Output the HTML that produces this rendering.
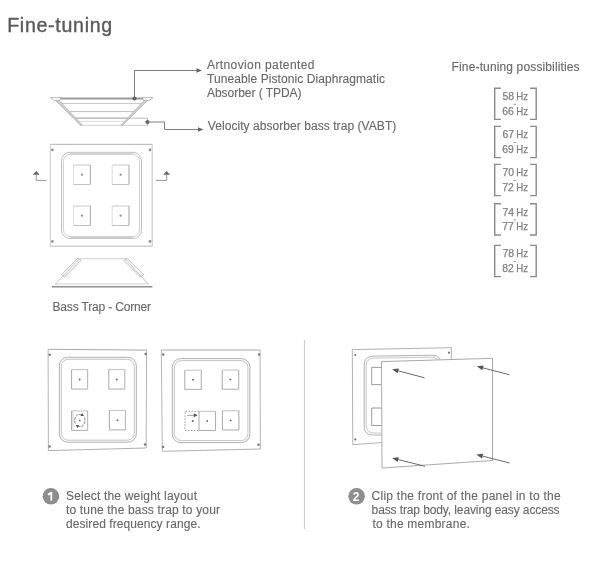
<!DOCTYPE html>
<html><head><meta charset="utf-8"><style>
html,body{margin:0;padding:0;background:#fff;width:600px;height:562px;overflow:hidden}
svg{display:block;will-change:transform}
text{font-family:"Liberation Sans",sans-serif}
</style></head><body>
<svg width="600" height="562" viewBox="0 0 600 562">
<rect width="600" height="562" fill="#fff"/>
<text x="7.2" y="31.6" font-size="19.6" fill="#5a5a5a" stroke="#5a5a5a" stroke-width="0.4" textLength="105" lengthAdjust="spacing" >Fine-tuning</text>
<g fill="none" stroke-linecap="butt">
<path d="M50.5 97.6 H61 L59.5 100.6 H54 Z" stroke="#a8a8a8" stroke-width="0.8"/>
<path d="M142.5 97.6 H153 L149 100.6 H143.5 Z" stroke="#a8a8a8" stroke-width="0.8"/>
<line x1="60.5" y1="98.6" x2="143" y2="98.6" stroke="#9a9a9a" stroke-width="2"/>
<line x1="60" y1="103.5" x2="142" y2="103.5" stroke="#cacaca" stroke-width="1"/>
<line x1="67" y1="111.6" x2="134" y2="111.6" stroke="#c0c0c0" stroke-width="1"/>
<line x1="75" y1="118.2" x2="128" y2="118.2" stroke="#adadad" stroke-width="1.3"/>
<line x1="78" y1="121.4" x2="124" y2="121.4" stroke="#d0d0d0" stroke-width="0.8"/>
<line x1="80" y1="125.3" x2="147.5" y2="125.3" stroke="#cfcfcf" stroke-width="1"/>
<line x1="147.5" y1="118.2" x2="147.5" y2="125.3" stroke="#9a9a9a" stroke-width="0.8"/>
<line x1="128" y1="118.2" x2="147.5" y2="118.2" stroke="#cccccc" stroke-width="1.3"/>
<path d="M55.3 100.2 H58.9 L82.4 125.2 H80.4 Z" fill="#cdcdcd" stroke="#b0b0b0" stroke-width="0.7"/>
<path d="M147.7 100.2 H144.3 L120.8 125.2 H122.8 Z" fill="#cdcdcd" stroke="#b0b0b0" stroke-width="0.7"/>
<path d="M134.5 98.5 V70.5 H197" stroke="#727272" stroke-width="0.9"/>
<path d="M147.5 122 H164.5 V129.5 H198.5" stroke="#727272" stroke-width="0.9"/>
</g>
<circle cx="134.5" cy="98.5" r="2.1" fill="#666"/>
<circle cx="147.5" cy="122" r="2.1" fill="#666"/>
<path d="M202 70.5 L196.5 68.2 V72.8 Z" fill="#666"/>
<path d="M203.5 129.5 L198 127.2 V131.8 Z" fill="#666"/>
<text x="207" y="69" font-size="12" fill="#686868" stroke="#686868" stroke-width="0.12" textLength="107.5" lengthAdjust="spacing" >Artnovion patented</text>
<text x="207" y="83" font-size="12" fill="#686868" stroke="#686868" stroke-width="0.12" textLength="178" lengthAdjust="spacing" >Tuneable Pistonic Diaphragmatic</text>
<text x="207" y="97.3" font-size="12" fill="#686868" stroke="#686868" stroke-width="0.12" textLength="94.5" lengthAdjust="spacing" >Absorber ( TPDA)</text>
<text x="207.8" y="129.7" font-size="12" fill="#686868" stroke="#686868" stroke-width="0.12" textLength="188.5" lengthAdjust="spacing" >Velocity absorber bass trap (VABT)</text>
<line x1="50.3" y1="144.3" x2="152.2" y2="144.3" stroke="#b0b0b0" stroke-width="1"/>
<line x1="50.3" y1="246.2" x2="152.2" y2="246.2" stroke="#bcbcbc" stroke-width="1"/>
<line x1="50.3" y1="144.3" x2="50.3" y2="246.2" stroke="#cccccc" stroke-width="1"/>
<line x1="152.2" y1="144.3" x2="152.2" y2="246.2" stroke="#c2c2c2" stroke-width="1"/>
<rect x="61.5" y="152.3" width="80.0" height="86.19999999999999" rx="8.5" fill="none" stroke="#c0c0c0" stroke-width="1"/>
<rect x="63.4" y="154.4" width="76.19999999999999" height="82.1" rx="7" fill="none" stroke="#cdcdcd" stroke-width="1"/>
<line x1="70" y1="153.3" x2="133" y2="153.3" stroke="#d2d2d2" stroke-width="1.5"/>
<line x1="70" y1="237.5" x2="133" y2="237.5" stroke="#d2d2d2" stroke-width="1.5"/>
<line x1="73.6" y1="165" x2="73.6" y2="184.5" stroke="#dcdcdc" stroke-width="1"/>
<line x1="73.6" y1="165" x2="90.39999999999999" y2="165" stroke="#c8c8c8" stroke-width="1"/>
<line x1="90.39999999999999" y1="165" x2="90.39999999999999" y2="184.5" stroke="#b8b8b8" stroke-width="1.3"/>
<line x1="73.6" y1="184.5" x2="90.39999999999999" y2="184.5" stroke="#c2c2c2" stroke-width="1"/>
<circle cx="82.0" cy="174.7" r="1.1" fill="#909090"/>
<line x1="112.2" y1="165" x2="112.2" y2="184.5" stroke="#dcdcdc" stroke-width="1"/>
<line x1="112.2" y1="165" x2="129.0" y2="165" stroke="#c8c8c8" stroke-width="1"/>
<line x1="129.0" y1="165" x2="129.0" y2="184.5" stroke="#b8b8b8" stroke-width="1.3"/>
<line x1="112.2" y1="184.5" x2="129.0" y2="184.5" stroke="#c2c2c2" stroke-width="1"/>
<circle cx="120.60000000000001" cy="174.7" r="1.1" fill="#909090"/>
<line x1="73.6" y1="206" x2="73.6" y2="225.5" stroke="#dcdcdc" stroke-width="1"/>
<line x1="73.6" y1="206" x2="90.39999999999999" y2="206" stroke="#c8c8c8" stroke-width="1"/>
<line x1="90.39999999999999" y1="206" x2="90.39999999999999" y2="225.5" stroke="#b8b8b8" stroke-width="1.3"/>
<line x1="73.6" y1="225.5" x2="90.39999999999999" y2="225.5" stroke="#c2c2c2" stroke-width="1"/>
<circle cx="82.0" cy="215.7" r="1.1" fill="#909090"/>
<line x1="112.2" y1="206" x2="112.2" y2="225.5" stroke="#dcdcdc" stroke-width="1"/>
<line x1="112.2" y1="206" x2="129.0" y2="206" stroke="#c8c8c8" stroke-width="1"/>
<line x1="129.0" y1="206" x2="129.0" y2="225.5" stroke="#b8b8b8" stroke-width="1.3"/>
<line x1="112.2" y1="225.5" x2="129.0" y2="225.5" stroke="#c2c2c2" stroke-width="1"/>
<circle cx="120.60000000000001" cy="215.7" r="1.1" fill="#909090"/>
<circle cx="52.4" cy="149.9" r="1.3" fill="#8a8a8a"/>
<circle cx="150" cy="149.9" r="1.3" fill="#8a8a8a"/>
<circle cx="52.4" cy="241.4" r="1.3" fill="#8a8a8a"/>
<circle cx="150" cy="241.4" r="1.3" fill="#8a8a8a"/>
<path d="M36.2 174.5 V180.4 H46.4" fill="none" stroke="#8a8a8a" stroke-width="0.9"/>
<path d="M36.2 171 L32.7 174.8 H39.7 Z" fill="#666"/>
<path d="M156 180.4 H166.7 V174.5" fill="none" stroke="#8a8a8a" stroke-width="0.9"/>
<path d="M166.6 171 L163.1 174.8 H170.1 Z" fill="#666"/>
<g fill="none">
<line x1="79.5" y1="258.8" x2="125.5" y2="258.8" stroke="#cfcfcf" stroke-width="1"/>
<line x1="79.5" y1="258.8" x2="55.5" y2="284" stroke="#b4b4b4" stroke-width="0.8"/>
<line x1="125.5" y1="258.8" x2="148" y2="284" stroke="#b4b4b4" stroke-width="0.8"/>
<path d="M78 258.2 L81 260.5 L64.5 277 L61.5 274.7 Z" stroke="#a8a8a8" stroke-width="0.8"/>
<path d="M127 258.2 L124 260.5 L140.5 277 L143.5 274.7 Z" stroke="#a8a8a8" stroke-width="0.8"/>
<line x1="55" y1="284" x2="149" y2="284" stroke="#d0d0d0" stroke-width="1"/>
<line x1="52" y1="286.8" x2="152.5" y2="286.8" stroke="#8f8f8f" stroke-width="1.6"/>
</g>
<text x="52.5" y="310.6" font-size="12" fill="#686868" stroke="#686868" stroke-width="0.12" textLength="98.5" lengthAdjust="spacing" >Bass Trap - Corner</text>
<text x="451.6" y="70.5" font-size="12" fill="#686868" stroke="#686868" stroke-width="0.12" textLength="128" lengthAdjust="spacing" >Fine-tuning possibilities</text>
<path d="M500.9 88.2 H494.7 V119.4 H500.9" fill="none" stroke="#8a8a8a" stroke-width="1.4"/>
<path d="M530 88.2 H536.2 V119.4 H530" fill="none" stroke="#8a8a8a" stroke-width="1.4"/>
<text x="502.4" y="100.10000000000001" font-size="10.7" fill="#808080" stroke="#808080" stroke-width="0.25" textLength="11.6" lengthAdjust="spacingAndGlyphs" >58</text>
<text x="502.2" y="114.80000000000001" font-size="10.7" fill="#808080" stroke="#808080" stroke-width="0.25" textLength="11.6" lengthAdjust="spacingAndGlyphs" >66</text>
<text x="516.2" y="100.10000000000001" font-size="10.7" fill="#808080" stroke="#808080" stroke-width="0.25" textLength="11.8" lengthAdjust="spacingAndGlyphs" >Hz</text>
<text x="516.2" y="114.80000000000001" font-size="10.7" fill="#808080" stroke="#808080" stroke-width="0.25" textLength="11.8" lengthAdjust="spacingAndGlyphs" >Hz</text>
<line x1="513.6" y1="104.30000000000001" x2="515.8" y2="104.30000000000001" stroke="#8c8c8c" stroke-width="1"/>
<path d="M500.9 126.4 H494.7 V157.6 H500.9" fill="none" stroke="#8a8a8a" stroke-width="1.4"/>
<path d="M530 126.4 H536.2 V157.6 H530" fill="none" stroke="#8a8a8a" stroke-width="1.4"/>
<text x="502.4" y="138.3" font-size="10.7" fill="#808080" stroke="#808080" stroke-width="0.25" textLength="11.6" lengthAdjust="spacingAndGlyphs" >67</text>
<text x="502.2" y="153.0" font-size="10.7" fill="#808080" stroke="#808080" stroke-width="0.25" textLength="11.6" lengthAdjust="spacingAndGlyphs" >69</text>
<text x="516.2" y="138.3" font-size="10.7" fill="#808080" stroke="#808080" stroke-width="0.25" textLength="11.8" lengthAdjust="spacingAndGlyphs" >Hz</text>
<text x="516.2" y="153.0" font-size="10.7" fill="#808080" stroke="#808080" stroke-width="0.25" textLength="11.8" lengthAdjust="spacingAndGlyphs" >Hz</text>
<line x1="513.6" y1="142.5" x2="515.8" y2="142.5" stroke="#8c8c8c" stroke-width="1"/>
<path d="M500.9 164.4 H494.7 V195.6 H500.9" fill="none" stroke="#8a8a8a" stroke-width="1.4"/>
<path d="M530 164.4 H536.2 V195.6 H530" fill="none" stroke="#8a8a8a" stroke-width="1.4"/>
<text x="502.4" y="176.3" font-size="10.7" fill="#808080" stroke="#808080" stroke-width="0.25" textLength="11.6" lengthAdjust="spacingAndGlyphs" >70</text>
<text x="502.2" y="191.0" font-size="10.7" fill="#808080" stroke="#808080" stroke-width="0.25" textLength="11.6" lengthAdjust="spacingAndGlyphs" >72</text>
<text x="516.2" y="176.3" font-size="10.7" fill="#808080" stroke="#808080" stroke-width="0.25" textLength="11.8" lengthAdjust="spacingAndGlyphs" >Hz</text>
<text x="516.2" y="191.0" font-size="10.7" fill="#808080" stroke="#808080" stroke-width="0.25" textLength="11.8" lengthAdjust="spacingAndGlyphs" >Hz</text>
<line x1="513.6" y1="180.5" x2="515.8" y2="180.5" stroke="#8c8c8c" stroke-width="1"/>
<path d="M500.9 203.8 H494.7 V235.0 H500.9" fill="none" stroke="#8a8a8a" stroke-width="1.4"/>
<path d="M530 203.8 H536.2 V235.0 H530" fill="none" stroke="#8a8a8a" stroke-width="1.4"/>
<text x="502.4" y="215.70000000000002" font-size="10.7" fill="#808080" stroke="#808080" stroke-width="0.25" textLength="11.6" lengthAdjust="spacingAndGlyphs" >74</text>
<text x="502.2" y="230.4" font-size="10.7" fill="#808080" stroke="#808080" stroke-width="0.25" textLength="11.6" lengthAdjust="spacingAndGlyphs" >77</text>
<text x="516.2" y="215.70000000000002" font-size="10.7" fill="#808080" stroke="#808080" stroke-width="0.25" textLength="11.8" lengthAdjust="spacingAndGlyphs" >Hz</text>
<text x="516.2" y="230.4" font-size="10.7" fill="#808080" stroke="#808080" stroke-width="0.25" textLength="11.8" lengthAdjust="spacingAndGlyphs" >Hz</text>
<line x1="513.6" y1="219.9" x2="515.8" y2="219.9" stroke="#8c8c8c" stroke-width="1"/>
<path d="M500.9 245.4 H494.7 V276.6 H500.9" fill="none" stroke="#8a8a8a" stroke-width="1.4"/>
<path d="M530 245.4 H536.2 V276.6 H530" fill="none" stroke="#8a8a8a" stroke-width="1.4"/>
<text x="502.4" y="257.3" font-size="10.7" fill="#808080" stroke="#808080" stroke-width="0.25" textLength="11.6" lengthAdjust="spacingAndGlyphs" >78</text>
<text x="502.2" y="272.0" font-size="10.7" fill="#808080" stroke="#808080" stroke-width="0.25" textLength="11.6" lengthAdjust="spacingAndGlyphs" >82</text>
<text x="516.2" y="257.3" font-size="10.7" fill="#808080" stroke="#808080" stroke-width="0.25" textLength="11.8" lengthAdjust="spacingAndGlyphs" >Hz</text>
<text x="516.2" y="272.0" font-size="10.7" fill="#808080" stroke="#808080" stroke-width="0.25" textLength="11.8" lengthAdjust="spacingAndGlyphs" >Hz</text>
<line x1="513.6" y1="261.5" x2="515.8" y2="261.5" stroke="#8c8c8c" stroke-width="1"/>
<line x1="304.5" y1="340" x2="304.5" y2="529" stroke="#cfcfcf" stroke-width="1.2"/>
<line x1="48.1" y1="349.3" x2="146.6" y2="350.1" stroke="#a8a8a8" stroke-width="1"/>
<line x1="48.4" y1="450.6" x2="146.2" y2="448" stroke="#b0b0b0" stroke-width="1"/>
<line x1="48.1" y1="349.3" x2="48.4" y2="450.6" stroke="#b8b8b8" stroke-width="1"/>
<line x1="146.6" y1="350.1" x2="146.2" y2="448" stroke="#b4b4b4" stroke-width="1"/>
<rect x="59.3" y="357.3" width="77.00000000000001" height="84.89999999999998" rx="8.5" fill="none" stroke="#b0b0b0" stroke-width="1"/>
<rect x="61.3" y="359.3" width="73.00000000000001" height="80.89999999999998" rx="7" fill="none" stroke="#c4c4c4" stroke-width="1"/>
<circle cx="49.7" cy="354.7" r="1.25" fill="#7a7a7a"/>
<circle cx="145.6" cy="353.9" r="1.25" fill="#7a7a7a"/>
<circle cx="49.6" cy="446.6" r="1.25" fill="#7a7a7a"/>
<circle cx="145" cy="444.4" r="1.25" fill="#7a7a7a"/>
<line x1="71.6" y1="369.6" x2="71.6" y2="389.1" stroke="#a8a8a8" stroke-width="1"/>
<line x1="71.6" y1="369.6" x2="87.6" y2="369.6" stroke="#c0c0c0" stroke-width="1"/>
<line x1="87.6" y1="369.6" x2="87.6" y2="389.1" stroke="#b8b8b8" stroke-width="1.1"/>
<line x1="71.6" y1="389.1" x2="87.6" y2="389.1" stroke="#adadad" stroke-width="1"/>
<circle cx="79.6" cy="379.40000000000003" r="1" fill="#707070"/>
<line x1="108.8" y1="369.6" x2="108.8" y2="389.1" stroke="#a8a8a8" stroke-width="1"/>
<line x1="108.8" y1="369.6" x2="124.8" y2="369.6" stroke="#c0c0c0" stroke-width="1"/>
<line x1="124.8" y1="369.6" x2="124.8" y2="389.1" stroke="#b8b8b8" stroke-width="1.1"/>
<line x1="108.8" y1="389.1" x2="124.8" y2="389.1" stroke="#adadad" stroke-width="1"/>
<circle cx="116.8" cy="379.40000000000003" r="1" fill="#707070"/>
<line x1="71.6" y1="410.9" x2="71.6" y2="430.4" stroke="#a8a8a8" stroke-width="1"/>
<line x1="71.6" y1="410.9" x2="87.6" y2="410.9" stroke="#c0c0c0" stroke-width="1"/>
<line x1="87.6" y1="410.9" x2="87.6" y2="430.4" stroke="#b8b8b8" stroke-width="1.1"/>
<line x1="71.6" y1="430.4" x2="87.6" y2="430.4" stroke="#adadad" stroke-width="1"/>
<line x1="109.4" y1="410.4" x2="109.4" y2="429.9" stroke="#a8a8a8" stroke-width="1"/>
<line x1="109.4" y1="410.4" x2="125.4" y2="410.4" stroke="#c0c0c0" stroke-width="1"/>
<line x1="125.4" y1="410.4" x2="125.4" y2="429.9" stroke="#b8b8b8" stroke-width="1.1"/>
<line x1="109.4" y1="429.9" x2="125.4" y2="429.9" stroke="#adadad" stroke-width="1"/>
<circle cx="117.4" cy="420.2" r="1" fill="#707070"/>
<line x1="72.9" y1="412" x2="72.9" y2="429" stroke="#c8c8c8" stroke-width="0.8"/>
<path d="M75.30 423.60 A5.2 6.2 0 0 1 82.00 414.88" fill="none" stroke="#7a7a7a" stroke-width="0.9" stroke-dasharray="3 0.8"/>
<path d="M83.92 415.95 L80.42 416.07 L82.17 412.92 Z" fill="#555"/>
<path d="M84.30 417.40 A5.2 6.2 0 0 1 77.60 426.12" fill="none" stroke="#7a7a7a" stroke-width="0.9" stroke-dasharray="3 0.8"/>
<path d="M75.68 425.05 L79.18 424.93 L77.43 428.08 Z" fill="#555"/>
<circle cx="79.8" cy="420.5" r="0.9" fill="#777"/>
<line x1="161.3" y1="350" x2="260" y2="350" stroke="#a8a8a8" stroke-width="1"/>
<line x1="162.3" y1="451.3" x2="260.4" y2="449" stroke="#b0b0b0" stroke-width="1"/>
<line x1="161.3" y1="350" x2="162.3" y2="451.3" stroke="#b8b8b8" stroke-width="1"/>
<line x1="260" y1="350" x2="260.4" y2="449" stroke="#b4b4b4" stroke-width="1"/>
<rect x="172.3" y="358.6" width="77.6" height="84.0" rx="8.5" fill="none" stroke="#b0b0b0" stroke-width="1"/>
<rect x="174.3" y="360.6" width="73.6" height="80.0" rx="7" fill="none" stroke="#c4c4c4" stroke-width="1"/>
<circle cx="163.2" cy="354.4" r="1.25" fill="#7a7a7a"/>
<circle cx="259.1" cy="354.4" r="1.25" fill="#7a7a7a"/>
<circle cx="163" cy="447" r="1.25" fill="#7a7a7a"/>
<circle cx="258.5" cy="444.7" r="1.25" fill="#7a7a7a"/>
<line x1="184.8" y1="370.2" x2="184.8" y2="389.4" stroke="#a8a8a8" stroke-width="1"/>
<line x1="184.8" y1="370.2" x2="201.3" y2="370.2" stroke="#c0c0c0" stroke-width="1"/>
<line x1="201.3" y1="370.2" x2="201.3" y2="389.4" stroke="#b0b0b0" stroke-width="1.1"/>
<line x1="184.8" y1="389.4" x2="201.3" y2="389.4" stroke="#adadad" stroke-width="1"/>
<circle cx="193.0" cy="379.8" r="1" fill="#707070"/>
<line x1="222.2" y1="370" x2="222.2" y2="389.2" stroke="#a8a8a8" stroke-width="1"/>
<line x1="222.2" y1="370" x2="238.7" y2="370" stroke="#c0c0c0" stroke-width="1"/>
<line x1="238.7" y1="370" x2="238.7" y2="389.2" stroke="#b0b0b0" stroke-width="1.1"/>
<line x1="222.2" y1="389.2" x2="238.7" y2="389.2" stroke="#adadad" stroke-width="1"/>
<circle cx="230.39999999999998" cy="379.6" r="1" fill="#707070"/>
<line x1="199" y1="411.3" x2="199" y2="430.5" stroke="#a8a8a8" stroke-width="1"/>
<line x1="199" y1="411.3" x2="215.5" y2="411.3" stroke="#c0c0c0" stroke-width="1"/>
<line x1="215.5" y1="411.3" x2="215.5" y2="430.5" stroke="#b0b0b0" stroke-width="1.1"/>
<line x1="199" y1="430.5" x2="215.5" y2="430.5" stroke="#adadad" stroke-width="1"/>
<circle cx="207.2" cy="420.90000000000003" r="1" fill="#707070"/>
<line x1="222.4" y1="410.8" x2="222.4" y2="430.0" stroke="#a8a8a8" stroke-width="1"/>
<line x1="222.4" y1="410.8" x2="238.9" y2="410.8" stroke="#c0c0c0" stroke-width="1"/>
<line x1="238.9" y1="410.8" x2="238.9" y2="430.0" stroke="#b0b0b0" stroke-width="1.1"/>
<line x1="222.4" y1="430.0" x2="238.9" y2="430.0" stroke="#adadad" stroke-width="1"/>
<circle cx="230.6" cy="420.40000000000003" r="1" fill="#707070"/>
<path d="M199 411.3 H185 V430.5 H199" fill="none" stroke="#8f8f8f" stroke-width="0.9" stroke-dasharray="1.5 1.5"/>
<line x1="187.3" y1="415.3" x2="194.5" y2="415.3" stroke="#909090" stroke-width="0.9"/>
<path d="M197.6 415.3 L193.8 413.3 V417.3 Z" fill="#555"/>
<circle cx="192.7" cy="420.9" r="1" fill="#666"/>
<g fill="none">
<path d="M381.5 442.6 L352.8 444.7 L352.3 349.6 L451.3 347.7 V359.3" stroke="#a8a8a8" stroke-width="0.9"/>
<path d="M432 355.2 L373 356.2 Q364.2 356.2 364.2 365 V426 Q364.2 435 373 435 H381.5 M432 355.2 Q441 355.2 441 364 V380" stroke="#a8a8a8" stroke-width="0.9"/>
<path d="M431 357.2 L374 358.2 Q366.2 358.2 366.2 366 V425 Q366.2 433 374 433 H381.5 M431 357.2 Q439 357.2 439 365 V380" stroke="#c0c0c0" stroke-width="0.9"/>
<path d="M381.5 367.4 H371.7 V384.6 H381.5" stroke="#8f8f8f" stroke-width="0.9"/>
<path d="M381.5 408 H371.7 V425.5 H381.5" stroke="#8f8f8f" stroke-width="0.9"/>
<path d="M381.5 361.6 L492.5 358.3 V460.5 L382 468 Z" fill="#fff" stroke="#a0a0a0" stroke-width="0.9"/>
</g>
<circle cx="355.3" cy="355" r="1.1" fill="#777"/>
<circle cx="355.3" cy="439.4" r="1.1" fill="#777"/>
<circle cx="449" cy="352.7" r="1.1" fill="#777"/>
<line x1="398.28" y1="370.86" x2="424.5" y2="377.8" stroke="#6a6a6a" stroke-width="1"/><path d="M392 369.2 L397.64 373.28 L398.92 368.45 Z" fill="#555"/>
<line x1="482.99" y1="367.92" x2="509.3" y2="374.7" stroke="#6a6a6a" stroke-width="1"/><path d="M476.7 366.3 L482.37 370.34 L483.62 365.50 Z" fill="#555"/>
<line x1="398.30" y1="459.59" x2="425" y2="466.3" stroke="#6a6a6a" stroke-width="1"/><path d="M392 458 L397.69 462.01 L398.91 457.16 Z" fill="#555"/>
<line x1="482.60" y1="456.11" x2="509.5" y2="463" stroke="#6a6a6a" stroke-width="1"/><path d="M476.3 454.5 L481.98 458.53 L483.22 453.69 Z" fill="#555"/>
<circle cx="50.9" cy="496.3" r="8.3" fill="#8e8e8e"/>
<path d="M50.4 492 H52.2 V500.8 H50.4 V494.6 L48.2 495.6 L47.6 493.9 Z" fill="#fff"/>
<circle cx="356.6" cy="496.3" r="8.3" fill="#8e8e8e"/>
<text x="356.0" y="500.8" font-size="12" font-weight="bold" fill="#fff" text-anchor="middle">2</text>
<text x="66" y="500" font-size="12" fill="#686868" stroke="#686868" stroke-width="0.12" textLength="131" lengthAdjust="spacing" >Select the weight layout</text>
<text x="66" y="514.2" font-size="12" fill="#686868" stroke="#686868" stroke-width="0.12" textLength="154" lengthAdjust="spacing" >to tune the bass trap to your</text>
<text x="66" y="528.4" font-size="12" fill="#686868" stroke="#686868" stroke-width="0.12" textLength="134.5" lengthAdjust="spacing" >desired frequency range.</text>
<text x="371.6" y="500" font-size="12" fill="#686868" stroke="#686868" stroke-width="0.12" textLength="189" lengthAdjust="spacing" >Clip the front of the panel in to the</text>
<text x="371.6" y="514.2" font-size="12" fill="#686868" stroke="#686868" stroke-width="0.12" textLength="188" lengthAdjust="spacing" >bass trap body, leaving easy access</text>
<text x="372.4" y="528.4" font-size="12" fill="#686868" stroke="#686868" stroke-width="0.12" textLength="97.5" lengthAdjust="spacing" >to the membrane.</text>
</svg>
</body></html>
